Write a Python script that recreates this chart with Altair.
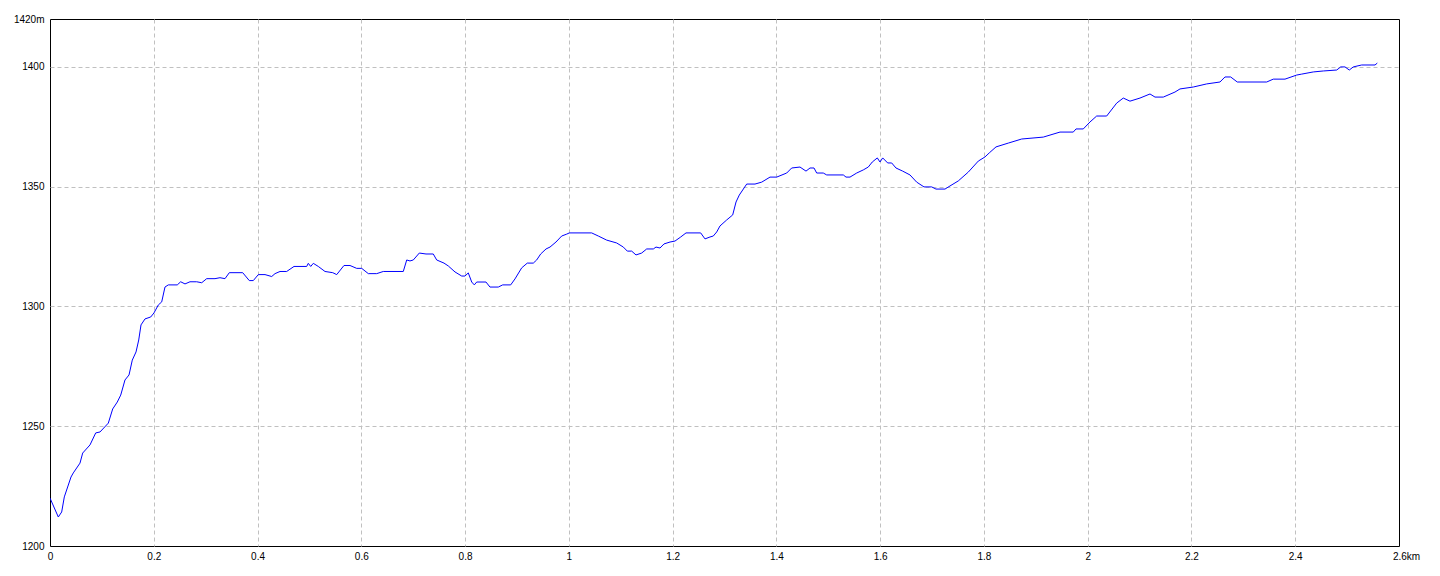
import altair as alt
import pandas as pd

# Distance along the route (km)
distance_km = [
    0.0, 0.016, 0.0225, 0.0276, 0.0405, 0.0449, 0.0578, 0.063, 0.0771, 0.0881,
    0.0964, 0.1124, 0.1208, 0.1297, 0.1363, 0.1445, 0.1523, 0.1586, 0.1658, 0.171,
    0.1754, 0.1831, 0.1941, 0.2004, 0.2087, 0.2153, 0.2216, 0.228, 0.2453, 0.2519,
    0.2602, 0.2698, 0.2827, 0.2924, 0.302, 0.318, 0.3276, 0.3373, 0.3456, 0.3714,
    0.3841, 0.3918, 0.4015, 0.4144, 0.4273, 0.4337, 0.4433, 0.4562, 0.4703, 0.4947,
    0.4978, 0.5025, 0.5075, 0.5171, 0.53, 0.5449, 0.5526, 0.5666, 0.5782, 0.5911,
    0.6008, 0.6135, 0.6297, 0.6424, 0.6809, 0.6875, 0.6938, 0.7002, 0.7118, 0.7247,
    0.7387, 0.7453, 0.7594, 0.7677, 0.7806, 0.7935, 0.7998, 0.8062, 0.8128, 0.8178,
    0.8224, 0.8403, 0.848, 0.864, 0.8725, 0.8879, 0.8962, 0.9091, 0.9199, 0.9315,
    0.938, 0.9457, 0.956, 0.9637, 0.9752, 0.9862, 0.9959, 1.0009, 1.044, 1.0568,
    1.0729, 1.0922, 1.105, 1.1127, 1.1211, 1.1294, 1.1404, 1.15, 1.1628, 1.168,
    1.1757, 1.1834, 1.195, 1.2046, 1.2156, 1.2258, 1.2451, 1.2541, 1.2624, 1.272,
    1.2784, 1.285, 1.2913, 1.3042, 1.3158, 1.3222, 1.3285, 1.3428, 1.3588, 1.3717,
    1.3877, 1.4006, 1.4199, 1.4295, 1.4455, 1.4571, 1.4648, 1.4725, 1.4777, 1.4904,
    1.497, 1.529, 1.5342, 1.5419, 1.5548, 1.5675, 1.5771, 1.5848, 1.5945, 1.5997,
    1.6049, 1.6145, 1.6222, 1.6305, 1.6434, 1.6575, 1.6704, 1.6845, 1.6993, 1.7076,
    1.725, 1.7346, 1.7506, 1.7699, 1.7892, 1.802, 1.8103, 1.8233, 1.847, 1.8728,
    1.9144, 1.9466, 1.9722, 1.9775, 1.9915, 2.0044, 2.0173, 2.0366, 2.0559, 2.0686,
    2.0815, 2.1008, 2.1201, 2.1297, 2.1457, 2.1682, 2.1779, 2.2035, 2.2294, 2.255,
    2.2646, 2.2756, 2.2883, 2.345, 2.3577, 2.3803, 2.4028, 2.4125, 2.4348, 2.4541,
    2.48, 2.4876, 2.4959, 2.5042, 2.5119, 2.528, 2.5538, 2.5582,
]

# Elevation (m)
elevation_m = [
    1220.0, 1212.1, 1214.2, 1220.5, 1228.8, 1230.5, 1234.6, 1238.8, 1242.2, 1247.2,
    1247.6, 1251.3, 1257.2, 1260.1, 1263.0, 1269.3, 1271.4, 1277.6, 1281.0, 1286.0,
    1292.3, 1294.8, 1295.6, 1297.3, 1300.6, 1301.9, 1308.1, 1309.0, 1309.0, 1310.3,
    1309.4, 1310.3, 1310.3, 1309.9, 1311.6, 1311.6, 1312.0, 1311.6, 1314.1, 1314.1,
    1310.8, 1310.8, 1313.3, 1313.3, 1312.5, 1313.7, 1314.6, 1314.6, 1316.7, 1316.7,
    1318.0, 1316.7, 1318.0, 1316.7, 1314.6, 1314.1, 1313.3, 1317.1, 1317.1, 1315.9,
    1315.9, 1313.7, 1313.7, 1314.6, 1314.6, 1319.4, 1319.0, 1319.4, 1322.3, 1321.9,
    1321.9, 1319.4, 1318.1, 1316.9, 1314.4, 1312.7, 1312.7, 1314.0, 1310.2, 1309.0,
    1310.2, 1310.2, 1308.1, 1308.1, 1309.0, 1309.0, 1311.5, 1316.1, 1318.1, 1318.1,
    1319.4, 1321.9, 1324.0, 1324.8, 1326.9, 1329.4, 1330.2, 1330.7, 1330.7, 1329.4,
    1327.7, 1326.5, 1324.8, 1323.1, 1323.1, 1321.5, 1322.3, 1324.0, 1324.0, 1324.8,
    1324.4, 1326.1, 1326.9, 1327.3, 1329.0, 1330.7, 1330.7, 1330.7, 1328.2, 1329.0,
    1329.4, 1331.1, 1333.6, 1336.1, 1338.2, 1343.6, 1346.5, 1351.1, 1351.1, 1351.9,
    1354.0, 1354.0, 1355.7, 1357.8, 1358.2, 1356.5, 1357.8, 1357.8, 1355.7, 1355.7,
    1354.9, 1354.9, 1354.0, 1354.0, 1355.7, 1357.0, 1358.2, 1360.3, 1362.0, 1360.3,
    1362.0, 1359.9, 1359.9, 1357.8, 1356.5, 1354.9, 1351.9, 1349.9, 1349.9, 1349.0,
    1349.0, 1350.3, 1352.4, 1356.1, 1360.7, 1362.4, 1364.1, 1366.6, 1368.2, 1369.9,
    1370.7, 1372.8, 1372.8, 1374.1, 1374.1, 1377.0, 1379.5, 1379.5, 1384.9, 1387.0,
    1385.7, 1387.0, 1388.7, 1387.4, 1387.4, 1389.5, 1390.8, 1391.6, 1392.9, 1393.7,
    1395.8, 1395.8, 1393.7, 1393.7, 1394.9, 1394.9, 1396.6, 1397.0, 1397.9, 1398.3,
    1398.7, 1400.0, 1400.0, 1398.7, 1400.0, 1400.8, 1400.8, 1401.6,
]

x_ticks = [0, 0.2, 0.4, 0.6, 0.8, 1, 1.2, 1.4, 1.6, 1.8, 2, 2.2, 2.4, 2.6]
y_ticks = [1200, 1250, 1300, 1350, 1400, 1420]

df = pd.DataFrame({"km": distance_km, "elev": elevation_m})

FONT = "Liberation Sans"

x_axis = alt.Axis(
    values=x_ticks,
    title=None,
    ticks=False,
    domain=False,
    labelFlush=False,
    labelFont=FONT,
    labelFontSize=10,
    labelColor="black",
    labelPadding=5,
    labelExpr="datum.value >= 2.6 ? '2.6km' : format(datum.value, '~g')",
    labelOffset={"condition": {"test": "datum.value >= 2.6", "value": 7}, "value": 0},
    grid=True,
    gridColor="#c0c0c0",
    gridDash=[4, 3],
    gridWidth=1,
    gridOpacity={"condition": {"test": "datum.value <= 0 || datum.value >= 2.6", "value": 0}, "value": 1},
)

y_axis = alt.Axis(
    values=y_ticks,
    title=None,
    ticks=False,
    domain=False,
    labelFlush=False,
    labelFont=FONT,
    labelFontSize=10,
    labelColor="black",
    labelPadding=6,
    labelExpr="datum.value >= 1420 ? '1420m' : datum.value",
    grid=True,
    gridColor="#c0c0c0",
    gridDash=[4, 3],
    gridWidth=1,
    gridOpacity={"condition": {"test": "datum.value <= 1200 || datum.value >= 1420", "value": 0}, "value": 1},
)

chart = (
    alt.Chart(df)
    .mark_line(color="#0000ff", strokeWidth=1, clip=True)
    .encode(
        x=alt.X("km:Q", scale=alt.Scale(domain=[0, 2.6], nice=False, zero=False), axis=x_axis),
        y=alt.Y("elev:Q", scale=alt.Scale(domain=[1200, 1420], nice=False, zero=False), axis=y_axis),
    )
    .properties(
        width=1349,
        height=527,
        autosize=alt.AutoSizeParams(type="none"),
        padding={"left": 42, "top": 11, "right": 30, "bottom": 20},
        background="white",
    )
    .configure_view(stroke="black", strokeWidth=1)
)

chart.save("out.html", embed_options={"renderer": "svg", "actions": False})
